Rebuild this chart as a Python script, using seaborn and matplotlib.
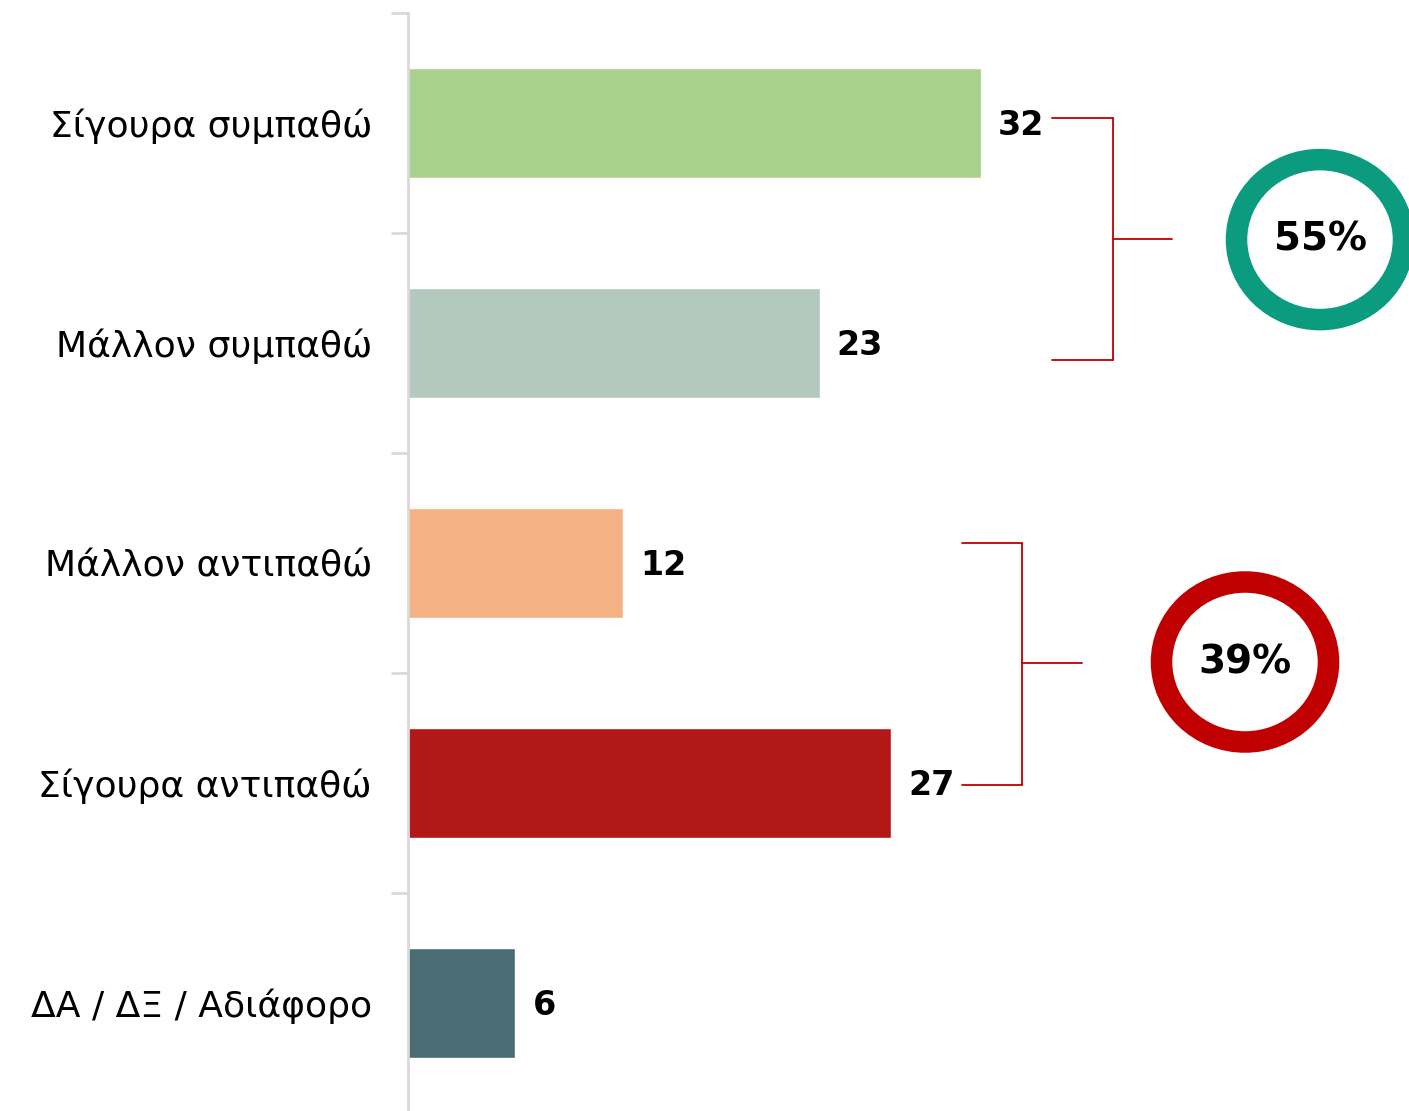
import matplotlib
matplotlib.use("Agg")
import matplotlib.pyplot as plt
from matplotlib.patches import Ellipse
import pandas as pd
import seaborn as sns

# data
categories = ["Σίγουρα συμπαθώ", "Μάλλον συμπαθώ", "Μάλλον αντιπαθώ",
              "Σίγουρα αντιπαθώ", "ΔΑ / ΔΞ / Αδιάφορο"]
values = [32, 23, 12, 27, 6]
colors = ["#A9D18E", "#B3C9BF", "#F4B183", "#B21818", "#4A6D74"]
group_labels = ["55%", "39%"]
group_colors = ["#0B9C80", "#C00000"]

df = pd.DataFrame({"category": categories, "value": values})

sns.set_theme(style="white")
plt.rcParams["font.family"] = ["DejaVu Sans"]

fig = plt.figure(figsize=(14.09, 11.11), dpi=100)
ax = fig.add_axes([408 / 1409, -2 / 1111, 1 - 408 / 1409, 1100 / 1111])

sns.barplot(data=df, x="value", y="category", hue="category", palette=colors,
            orient="h", width=0.5, legend=False, ax=ax, saturation=1)

ax.set_xlim(0, 1001 / 17.9)
ax.set_ylim(4.5, -0.5)
ax.set_xlabel("")
ax.set_ylabel("")
ax.set_xticks([])
for s in ["top", "right", "bottom"]:
    ax.spines[s].set_visible(False)
ax.spines["left"].set_color("#D9D9D9")
ax.spines["left"].set_linewidth(2)

ax.set_yticks(range(len(categories)))
ax.set_yticklabels(categories, fontsize=26, color="black")
ax.tick_params(axis="y", which="major", length=0, pad=26)
ax.set_yticks([i - 0.5 for i in range(len(categories))], minor=True)
ax.tick_params(axis="y", which="minor", length=12, width=2, color="#D9D9D9", left=True)

# value labels
for i, v in enumerate(values):
    ax.text(v + 0.95, i + 0.01, str(v), va="center", ha="left", fontsize=24,
            fontweight="bold", color="black")

# brackets
red = "#C00000"
lw = 1.3
# top group (bars 0,1)
ax.plot([36.0, 39.4], [-0.023, -0.023], color=red, lw=lw, clip_on=False)
ax.plot([36.0, 39.4], [1.077, 1.077], color=red, lw=lw, clip_on=False)
ax.plot([39.4, 39.4], [-0.023, 1.077], color=red, lw=lw, clip_on=False)
ax.plot([39.4, 42.7], [0.527, 0.527], color=red, lw=lw, clip_on=False)
# bottom group (bars 2,3)
ax.plot([30.95, 34.3], [1.909, 1.909], color=red, lw=lw, clip_on=False)
ax.plot([30.95, 34.3], [3.009, 3.009], color=red, lw=lw, clip_on=False)
ax.plot([34.3, 34.3], [1.909, 3.009], color=red, lw=lw, clip_on=False)
ax.plot([34.3, 37.65], [2.455, 2.455], color=red, lw=lw, clip_on=False)

# circles with totals
centers = [(50.95, 0.53), (46.76, 2.45)]
for (cx, cy), lab, col in zip(centers, group_labels, group_colors):
    ax.add_patch(Ellipse((cx, cy), width=167 / 17.9, height=160 / 220,
                         fill=False, edgecolor=col, lw=15.5, clip_on=False))
    ax.text(cx, cy, lab, ha="center", va="center", fontsize=28,
            fontweight="bold", color="black")

fig.savefig("out.png", dpi=100)
